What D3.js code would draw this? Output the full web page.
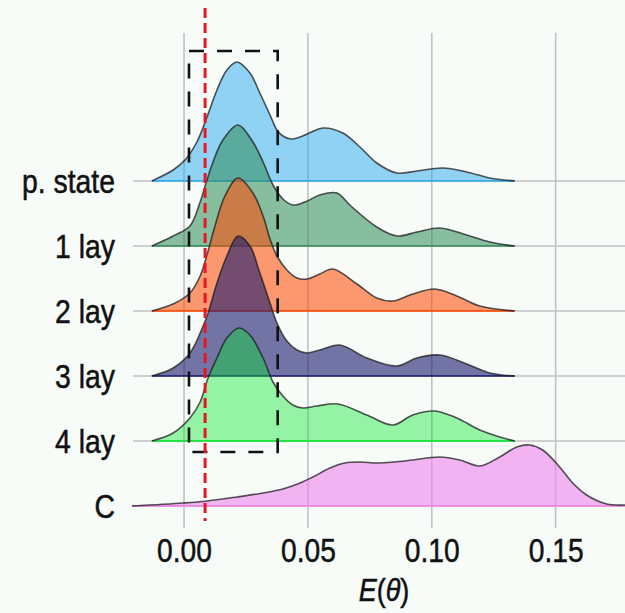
<!DOCTYPE html>
<html>
<head>
<meta charset="utf-8">
<script src="https://cdn.jsdelivr.net/npm/d3@7"></script>
<style>
  html, body { margin: 0; padding: 0; background: #f7fcf8; }
  svg { display: block; }
  text { font-family: "Liberation Sans", Arial, Helvetica, sans-serif; fill: #111; stroke: #111; stroke-width: 0.5px; }
</style>
</head>
<body>
<svg id="chart" width="625" height="613"></svg>
<script>
// Ridge categories, top to bottom
const categories = ["p. state", "1 lay", "2 lay", "3 lay", "4 lay", "C"];

// Density estimates of E(theta) per model (x position, density)
const pStateX = [-0.013, -0.0044, 0.0004, 0.0052, 0.0093, 0.0133, 0.0173, 0.0214, 0.0266, 0.0306, 0.0347, 0.0375, 0.0399, 0.0431, 0.0468, 0.0515, 0.056, 0.0641, 0.071, 0.0778, 0.0859, 0.094, 0.1044, 0.1141, 0.1234, 0.1335];
const pStateD = [0, 2.75, 5.25, 9.75, 16, 22.75, 27.75, 29.75, 27, 22, 16.5, 12.75, 11.25, 10.5, 11, 12.25, 13.25, 12, 8.5, 4.5, 2, 2.5, 3.25, 2.25, 0.75, 0];

const lay1X = [-0.013, -0.0044, 0.0024, 0.0065, 0.0085, 0.0117, 0.0157, 0.0218, 0.0278, 0.0319, 0.0359, 0.0399, 0.0439, 0.0488, 0.0548, 0.0617, 0.0669, 0.0778, 0.0859, 0.094, 0.1032, 0.1141, 0.1234, 0.1335];
const lay1D = [0, 2.5, 5, 11, 15, 21, 26.5, 30.25, 26, 21, 15.25, 11.75, 10.25, 11, 12.75, 13.25, 10.25, 4.75, 2.5, 3.5, 4.5, 2.75, 1, 0];

const lay2X = [-0.013, -0.0044, 0.0024, 0.0065, 0.0097, 0.0125, 0.0165, 0.0218, 0.0278, 0.0319, 0.0347, 0.0375, 0.0415, 0.0456, 0.0496, 0.0548, 0.0601, 0.0698, 0.0778, 0.0843, 0.0923, 0.1012, 0.1101, 0.1194, 0.1335];
const lay2D = [0, 1.75, 4.5, 8.75, 15, 21.25, 28.75, 33.25, 29.5, 23.75, 18, 13.75, 10.25, 8.25, 8, 9.25, 10.5, 6.75, 3.25, 2.5, 4.25, 5.5, 3.75, 1.25, 0];

const lay3X = [-0.013, -0.0044, 0.0024, 0.0077, 0.0097, 0.0133, 0.0173, 0.0218, 0.0266, 0.0306, 0.0347, 0.0375, 0.0415, 0.0456, 0.0496, 0.0548, 0.0629, 0.0738, 0.0859, 0.094, 0.1032, 0.1141, 0.1234, 0.1335];
const lay3D = [0, 2, 5.75, 12.5, 15.75, 23.25, 30, 35, 32.5, 25.75, 18.25, 13.25, 8.75, 6.5, 5.75, 6.5, 7.75, 4.5, 2.5, 4.5, 5.25, 3, 0.75, 0];

const lay4X = [-0.013, -0.0044, 0.0024, 0.0065, 0.0097, 0.0133, 0.0173, 0.0222, 0.0266, 0.0319, 0.0359, 0.0399, 0.0439, 0.048, 0.0536, 0.0621, 0.0738, 0.0843, 0.0923, 0.1012, 0.1101, 0.1194, 0.1274, 0.1335];
const lay4D = [0, 2, 5.75, 9.75, 15.75, 20.75, 25.75, 28.25, 26.5, 20.75, 14.75, 11.25, 9, 8.25, 8.75, 9.25, 6.5, 4, 6.5, 7.5, 5.75, 2.75, 1, 0];

const cX = [-0.021, -0.0004, 0.0093, 0.0214, 0.0319, 0.0399, 0.0468, 0.052, 0.0589, 0.0649, 0.0709, 0.0778, 0.0849, 0.0923, 0.1032, 0.1113, 0.1194, 0.1274, 0.1343, 0.1395, 0.1448, 0.1516, 0.1569, 0.1625, 0.1706, 0.178];
const cD = [0, 0.75, 1.25, 2.25, 3.25, 4.25, 5.75, 7.25, 9.5, 10.75, 11, 10.75, 11, 11.5, 12.25, 11.5, 10, 12.25, 14.75, 15.25, 14, 9.75, 5.75, 2.75, 0.5, 0.25];

// Fill colours per ridge
const fillColors = ["#2aa8f0", "#2e8b57", "#ff4500", "#191970", "#00e628", "#ee82ee"];
const fillOpacity = [0.5, 0.55, 0.55, 0.6, 0.4, 0.6];

// Axis ticks
const tickValues = [0, 0.05, 0.10, 0.15];
const tickLabels = ["0.00", "0.05", "0.10", "0.15"];

// Reference threshold and highlighted interval
const thresholdX = 0.0085;
const intervalX = [0.002, 0.0378];

const xs = [pStateX, lay1X, lay2X, lay3X, lay4X, cX];
const ds = [pStateD, lay1D, lay2D, lay3D, lay4D, cD];
const series = categories.map((c, i) => ({
  name: c,
  color: fillColors[i],
  opacity: fillOpacity[i],
  values: xs[i].map((v, j) => [v, ds[i][j]])
}));

const svg = d3.select("#chart");
const W = 625, H = 613;
const panel = { left: 133, right: 625, top: 33, bottom: 528 };

const x = d3.scaleLinear().domain([-0.0206, 0.178]).range([panel.left, panel.right]);
const y = d3.scalePoint().domain(categories).range([181, 506]);
const h = d3.scaleLinear().domain([0, 30]).range([0, 120]);
const curve = d3.curveCatmullRom.alpha(0.5);

svg.append("rect").attr("width", W).attr("height", H).attr("fill", "#f7fcf8");

// Grid
const grid = svg.append("g").attr("stroke", "#c2c2c2").attr("stroke-width", 1.6);
grid.selectAll("line.v").data(tickValues).join("line")
  .attr("class", "v")
  .attr("x1", d => x(d)).attr("x2", d => x(d))
  .attr("y1", panel.top).attr("y2", panel.bottom);
grid.selectAll("line.h").data(categories).join("line")
  .attr("class", "h")
  .attr("x1", panel.left).attr("x2", panel.right)
  .attr("y1", d => y(d)).attr("y2", d => y(d));

// Ridges, back to front
const ridges = svg.append("g");
series.forEach(s => {
  const base = y(s.name);
  const top = d => Math.min(base, base - h(d[1]));
  const area = d3.area()
    .x(d => x(d[0]))
    .y0(base)
    .y1(top)
    .curve(curve);
  const line = d3.line()
    .x(d => x(d[0]))
    .y(top)
    .curve(curve);
  const g = ridges.append("g");
  g.append("path").datum(s.values)
    .attr("d", area)
    .attr("fill", s.color)
    .attr("fill-opacity", s.opacity);
  g.append("line")
    .attr("x1", x(s.values[0][0])).attr("x2", x(s.values[s.values.length - 1][0]))
    .attr("y1", base).attr("y2", base)
    .attr("stroke", s.color).attr("stroke-opacity", 0.75).attr("stroke-width", 2);
  g.append("path").datum(s.values)
    .attr("d", line)
    .attr("fill", "none")
    .attr("stroke", "#1c1c1c")
    .attr("stroke-opacity", 0.75)
    .attr("stroke-width", 1.6);
});

// Highlighted interval box
svg.append("rect")
  .attr("x", x(intervalX[0]))
  .attr("y", 51)
  .attr("width", x(intervalX[1]) - x(intervalX[0]))
  .attr("height", 452 - 51)
  .attr("fill", "none")
  .attr("stroke", "#111")
  .attr("stroke-width", 2.6)
  .attr("stroke-dasharray", "15,13");

// Threshold line
svg.append("line")
  .attr("x1", x(thresholdX)).attr("x2", x(thresholdX))
  .attr("y1", 8).attr("y2", 521)
  .attr("stroke", "#e8161e")
  .attr("stroke-width", 3)
  .attr("stroke-dasharray", "10,5");

// Category labels
svg.append("g").selectAll("text").data(categories).join("text")
  .attr("transform", d => `translate(115,${y(d) + 12}) scale(0.86,1)`)
  .attr("text-anchor", "end")
  .attr("font-size", 33)
  .text(d => d);

// x axis
const xAxis = d3.axisBottom(x)
  .tickValues(tickValues)
  .tickFormat((d, i) => tickLabels[i])
  .tickSize(0)
  .tickPadding(0);
const ax = svg.append("g").call(xAxis);
ax.select(".domain").remove();
ax.selectAll(".tick text")
  .attr("y", 562)
  .attr("dy", null)
  .attr("font-size", 34)
  .attr("font-family", "'Liberation Sans', Arial, sans-serif")
  .attr("fill", "#111")
  .attr("stroke", "#111")
  .attr("stroke-width", 0.5)
  .attr("transform", "scale(0.83,1)");

// Axis title
const title = svg.append("text")
  .attr("transform", "translate(384,601) scale(0.87,1)")
  .attr("text-anchor", "middle")
  .attr("font-size", 31)
  .attr("font-style", "italic");
title.append("tspan").text("E");
title.append("tspan").attr("font-style", "normal").text("(");
title.append("tspan").text("θ");
title.append("tspan").attr("font-style", "normal").text(")");
</script>
</body>
</html>
